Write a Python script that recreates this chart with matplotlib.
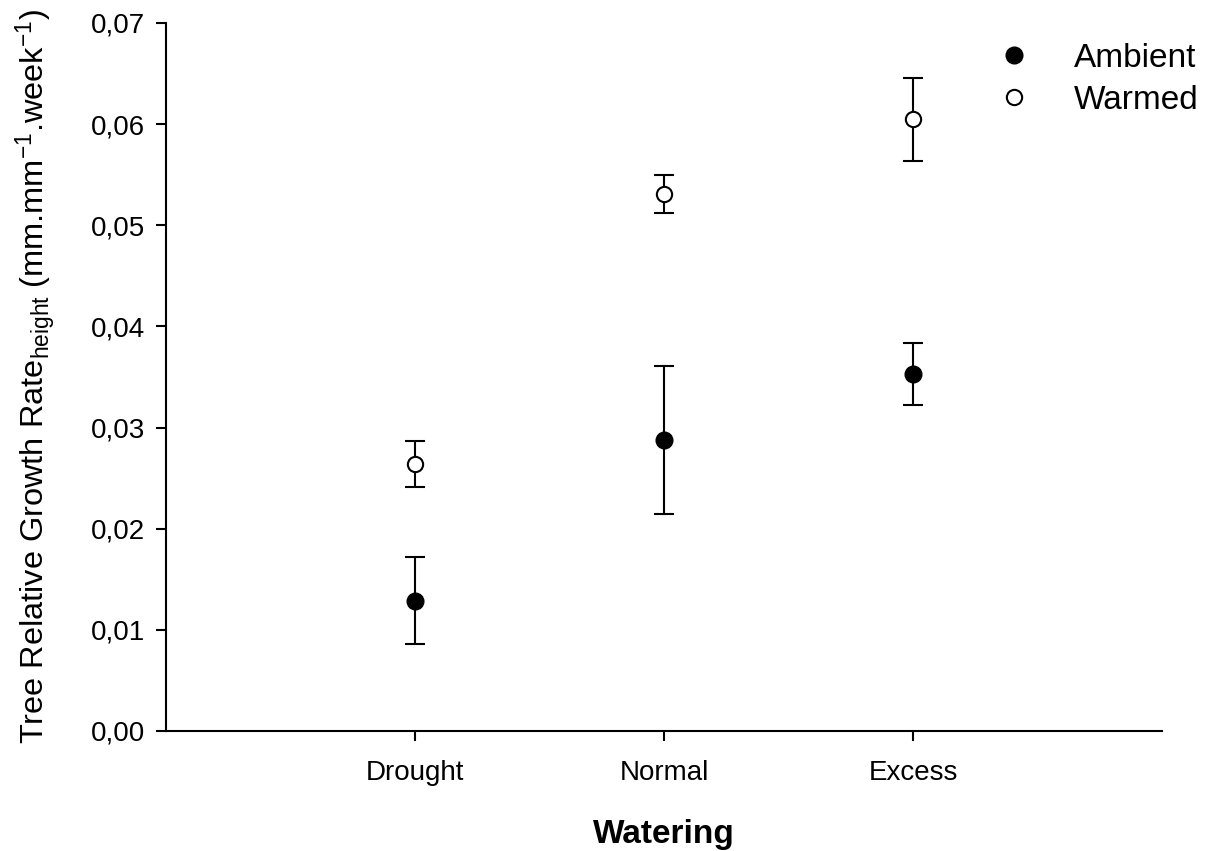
import matplotlib
matplotlib.use("Agg")
import matplotlib.pyplot as plt
from matplotlib.lines import Line2D
import numpy as np

categories = ["Drought", "Normal", "Excess"]
ambient_mean = [0.0129, 0.0288, 0.0353]
ambient_err = [0.0043, 0.0073, 0.0031]
warmed_mean = [0.0264, 0.0531, 0.0605]
warmed_err = [0.0023, 0.0019, 0.0041]
yticks = [0.00, 0.01, 0.02, 0.03, 0.04, 0.05, 0.06, 0.07]
ytick_labels = ["0,00", "0,01", "0,02", "0,03", "0,04", "0,05", "0,06", "0,07"]

plt.rcParams["font.family"] = ["Liberation Sans", "DejaVu Sans"]
plt.rcParams["mathtext.fontset"] = "custom"
plt.rcParams["mathtext.rm"] = "Liberation Sans"
plt.rcParams["mathtext.it"] = "Liberation Sans"
plt.rcParams["axes.unicode_minus"] = False

fig = plt.figure(figsize=(12.08, 8.51), dpi=100)
ax = fig.add_axes([166/1208, 120/851, (1162-166)/1208, (731-23)/851])

x = np.arange(1, len(categories) + 1)

ax.errorbar(x, ambient_mean, yerr=ambient_err, fmt="o", color="black",
            markersize=12, markerfacecolor="black", markeredgecolor="black",
            ecolor="black", elinewidth=1.5, capsize=7.5, capthick=1.5,
            label="Ambient", zorder=3)
ax.errorbar(x, warmed_mean, yerr=warmed_err, fmt="o", color="black",
            markersize=11, markerfacecolor="white", markeredgecolor="black",
            markeredgewidth=1.5,
            ecolor="black", elinewidth=1.5, capsize=7.5, capthick=1.5,
            label="Warmed", zorder=3)

ax.set_xlim(0, 4)
ax.set_ylim(0, 0.07)
ax.set_xticks(x)
ax.set_xticklabels(categories, fontsize=20)
ax.set_yticks(yticks)
ax.set_yticklabels(ytick_labels, fontsize=20)
ax.tick_params(axis="both", direction="out", length=7, width=1.5)
ax.tick_params(axis="x", pad=14)
ax.tick_params(axis="y", pad=8)

for s in ["top", "right"]:
    ax.spines[s].set_visible(False)
for s in ["left", "bottom"]:
    ax.spines[s].set_linewidth(1.5)

ax.set_xlabel("Watering", fontsize=24, fontweight="bold", labelpad=24)
ax.set_ylabel(r"Tree Relative Growth Rate$_{\mathrm{height}}$ (mm.mm$^{\mathrm{-1}}$.week$^{\mathrm{-1}}$)",
              fontsize=23.4)
ax.yaxis.set_label_coords(-(166-58)/996, 0.501)

h1 = Line2D([], [], marker="o", linestyle="none", markersize=12,
            markerfacecolor="black", markeredgecolor="black")
h2 = Line2D([], [], marker="o", linestyle="none", markersize=11,
            markerfacecolor="white", markeredgecolor="black", markeredgewidth=1.5)
fig.legend([h1, h2], ["Ambient", "Warmed"], loc="upper left",
           bbox_to_anchor=(997/1208, 1 - 43/851), frameon=False, fontsize=24,
           handlelength=1.0, handletextpad=1.3, borderpad=0, borderaxespad=0,
           labelspacing=0.32)

fig.savefig("out.png", dpi=100)
